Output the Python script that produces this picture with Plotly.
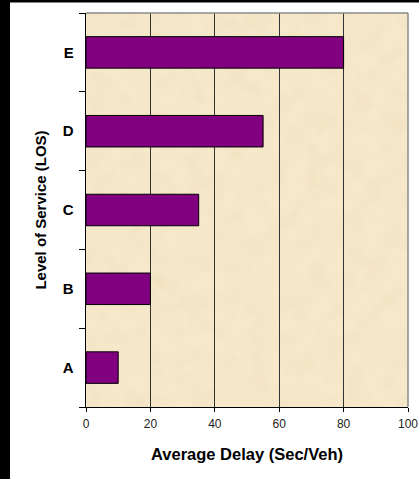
import base64
import plotly.graph_objects as go

categories = ["A", "B", "C", "D", "E"]
delays = [10, 20, 35, 55, 80]
x_ticks = [0, 20, 40, 60, 80, 100]

L, R, T, B = 86, 11, 13, 72
W, H = 419, 479
pw = W - L - R
ph = H - T - B

# parchment-like texture for the plot background (pure styling)
svg = f"""<svg xmlns='http://www.w3.org/2000/svg' width='{pw}' height='{ph}'>
<filter id='f' x='0' y='0' width='100%' height='100%'>
<feTurbulence type='fractalNoise' baseFrequency='0.05' numOctaves='4' seed='7'/>
<feColorMatrix type='matrix' values='0 0 0 0 0.80  0 0 0 0 0.68  0 0 0 0 0.45  1.5 0 0 0 -0.6'/>
</filter>
<rect width='100%' height='100%' fill='#F6E9CA'/>
<rect width='100%' height='100%' filter='url(#f)' opacity='0.45'/>
</svg>"""
bg_src = "data:image/svg+xml;base64," + base64.b64encode(svg.encode()).decode()

fig = go.Figure()
fig.add_trace(go.Bar(
    x=delays, y=categories, orientation="h",
    marker=dict(color="#800080", line=dict(color="#000000", width=1)),
    width=0.4,
))

fig.update_layout(
    width=W, height=H,
    margin=dict(l=L, r=R, t=T, b=B, pad=0, autoexpand=False),
    paper_bgcolor="white",
    plot_bgcolor="#F4E6C6",
    showlegend=False,
    font=dict(family="Liberation Sans, Arial, sans-serif", color="#000000"),
    images=[dict(source=bg_src, xref="paper", yref="paper", x=0, y=1,
                 sizex=1, sizey=1, sizing="stretch", xanchor="left",
                 yanchor="top", layer="below")],
    xaxis=dict(
        range=[0, 100], tickvals=x_ticks, ticks="outside", ticklen=4,
        tickcolor="#000", showline=True, linecolor="#000", linewidth=1,
        showgrid=True, gridcolor="#333333", gridwidth=1, zeroline=False,
        tickfont=dict(size=12, color="#222"), ticklabelstandoff=2,
        title=dict(text="<b>Average Delay (Sec/Veh)</b>", font=dict(size=16.5), standoff=18),
        automargin=False, fixedrange=True,
    ),
    yaxis=dict(
        type="category", categoryorder="array", categoryarray=categories,
        tickson="boundaries", ticks="outside", ticklen=6, tickcolor="#000",
        showline=True, linecolor="#000", linewidth=1, showgrid=False,
        tickfont=dict(size=15),
        tickprefix="<b>", ticksuffix="</b>  ",
        title=dict(text="<b>Level of Service (LOS)</b>", font=dict(size=15), standoff=12),
        automargin=False, fixedrange=True,
    ),
    shapes=[
        dict(type="rect", xref="paper", yref="paper",
             x0=(0 - L) / pw, x1=(10 - L) / pw, y0=-B / ph - 0.01, y1=1 + T / ph + 0.01,
             fillcolor="#000", line=dict(width=0), layer="above"),
        dict(type="rect", xref="paper", yref="paper",
             x0=(0 - L) / pw, x1=1 + R / pw + 0.01, y0=1 + (T - 2.5) / ph, y1=1 + T / ph + 0.01,
             fillcolor="#000", line=dict(width=0), layer="above"),
        dict(type="line", xref="paper", yref="paper", x0=0, x1=1, y0=1, y1=1,
             line=dict(color="#8a8a8a", width=1.5)),
        dict(type="line", xref="paper", yref="paper", x0=1, x1=1, y0=0, y1=1,
             line=dict(color="#8a8a8a", width=1.5)),
    ],
)

fig.write_html("out.html", config={"displayModeBar": False},
               post_script="document.body.style.margin='0';")
